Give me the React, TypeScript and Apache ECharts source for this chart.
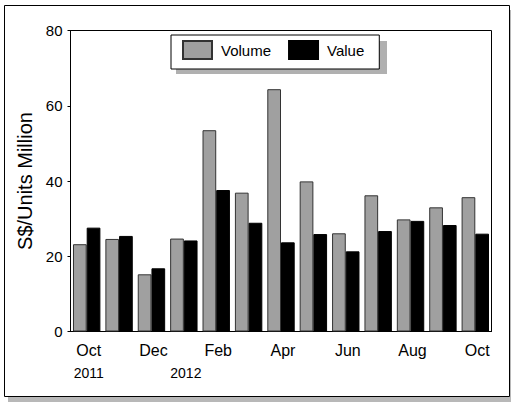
import React, { useEffect, useRef } from "react";
import * as echarts from "echarts";

const months = ["Oct", "Nov", "Dec", "Jan", "Feb", "Mar", "Apr", "May", "Jun", "Jul", "Aug", "Sep", "Oct"];
const monthLabels = ["Oct", "", "Dec", "", "Feb", "", "Apr", "", "Jun", "", "Aug", "", "Oct"];
const yearLabels = ["2011", "", "", "2012", "", "", "", "", "", "", "", "", ""];
const volume = [23.2, 24.6, 15.2, 24.7, 53.5, 36.9, 64.4, 39.9, 26.1, 36.2, 29.8, 33.0, 35.7];
const value = [27.6, 25.4, 16.8, 24.2, 37.6, 28.9, 23.7, 25.9, 21.3, 26.7, 29.4, 28.3, 26.0];
const yTicks = { min: 0, max: 80, interval: 20 };

const FONT = "'Liberation Sans', Arial, Helvetica, sans-serif";

export default function App() {
  const ref = useRef<HTMLDivElement>(null);
  useEffect(() => {
    document.body.style.margin = "0";
    const chart = echarts.init(ref.current!, null, { renderer: "svg" });
    chart.setOption({
      animation: false,
      backgroundColor: "#fff",
      textStyle: { fontFamily: FONT, color: "#000" },
      graphic: [
        { type: "rect", z: -10, shape: { x: 8, y: 10, width: 506, height: 392 }, style: { fill: "#b8b8b8" } },
        { type: "rect", z: -9, shape: { x: 4.5, y: 5.5, width: 505, height: 391 }, style: { fill: "#fff", stroke: "#000", lineWidth: 1 } },
        { type: "rect", z: -8, shape: { x: 176, y: 41, width: 211, height: 33 }, style: { fill: "#b0b0b0" } },
      ],
      legend: {
        left: 171,
        top: 35,
        icon: "rect",
        itemWidth: 29,
        itemHeight: 18,
        itemGap: 17,
        padding: [5, 15, 9, 11],
        backgroundColor: "#fff",
        borderColor: "#000",
        borderWidth: 1,
        borderRadius: 0,
        itemStyle: { borderRadius: 0 },
        textStyle: { fontSize: 15, color: "#000", fontFamily: FONT, padding: [0, 0, 0, 4] },
        data: ["Volume", "Value"],
      },
      grid: {
        left: 70.5,
        top: 30.5,
        right: 19.5,
        bottom: 71.5,
        show: true,
        borderColor: "#000",
        borderWidth: 1,
      },
      xAxis: {
        type: "category",
        data: months,
        axisLine: { lineStyle: { color: "#000", width: 1 } },
        axisTick: { alignWithLabel: true, interval: 0, length: 3, lineStyle: { color: "#000" } },
        axisLabel: {
          interval: 0,
          margin: 8,
          formatter: (_v: string, i: number) => {
            const m = monthLabels[i] || " ";
            const y = yearLabels[i];
            return y ? `{m|${m}}\n{y|${y}}` : `{m|${m}}`;
          },
          rich: {
            m: { fontSize: 16, lineHeight: 22, fontFamily: FONT, color: "#000", padding: [0, 0, 0, 4] },
            y: { fontSize: 14, lineHeight: 22, fontFamily: FONT, color: "#000", padding: [0, 0, 0, 4] },
          },
        },
      },
      yAxis: {
        type: "value",
        min: yTicks.min,
        max: yTicks.max,
        interval: yTicks.interval,
        name: "S$/Units Million",
        nameLocation: "middle",
        nameRotate: 90,
        nameGap: 34,
        nameTextStyle: { fontSize: 20, color: "#000", fontFamily: FONT },
        axisLine: { show: true, lineStyle: { color: "#000", width: 1 } },
        axisTick: { show: true, length: 3, lineStyle: { color: "#000" } },
        axisLabel: { fontSize: 15, color: "#000", margin: 8, fontFamily: FONT },
        splitLine: { show: false },
      },
      series: [
        {
          name: "Volume",
          type: "bar",
          data: volume,
          barWidth: 13.7,
          barGap: "0%",
          itemStyle: { color: "#a0a0a0", borderColor: "#333", borderWidth: 1, borderRadius: 0 },
        },
        {
          name: "Value",
          type: "bar",
          data: value,
          barWidth: 13.7,
          barGap: "0%",
          itemStyle: { color: "#000", borderColor: "#000", borderWidth: 1, borderRadius: 0 },
        },
      ],
    });
    return () => chart.dispose();
  }, []);
  return <div ref={ref} style={{ width: 511, height: 403 }} />;
}
